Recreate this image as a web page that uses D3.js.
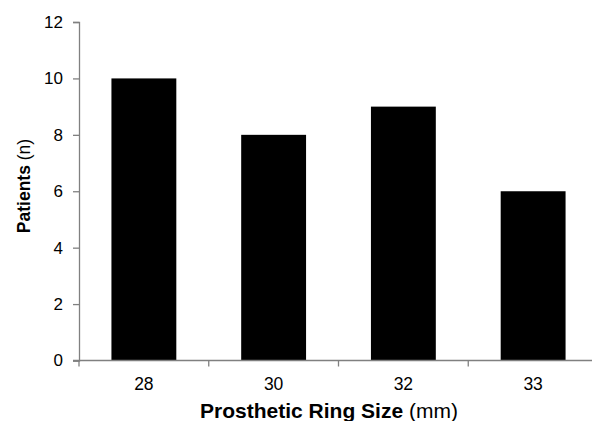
<!DOCTYPE html>
<html>
<head>
<meta charset="utf-8">
<script src="https://cdn.jsdelivr.net/npm/d3@7"></script>
<style>
  body { margin: 0; background: #fff; }
  text { font-family: "Liberation Sans", Arial, sans-serif; }
</style>
</head>
<body>
<div id="chart_div"></div>
<script>
var sizes = ["28", "30", "32", "33"];
var patients = [10, 8, 9, 6];
var y_ticks = [0, 2, 4, 6, 8, 10, 12];

var chart_width = 592;
var chart_height = 421;
var chart = d3.select("#chart_div").append("svg")
    .attr("width", chart_width)
    .attr("height", chart_height);

var x = d3.scaleBand().domain(sizes).range([79, 598]).paddingInner(0.5).paddingOuter(0.25);
var y = d3.scaleLinear().domain([0, 12]).range([360.5, 22]);

// bars
chart.selectAll("rect.bar")
    .data(patients)
    .enter().append("rect")
    .attr("class", "bar")
    .attr("x", function(d, i) { return x(sizes[i]); })
    .attr("width", x.bandwidth())
    .attr("y", function(d) { return y(d); })
    .attr("height", function(d) { return y(0) - y(d); })
    .attr("fill", "black");

// y axis
var y_axis = chart.append("g")
    .attr("transform", "translate(79,0)")
    .call(d3.axisLeft(y).tickValues(y_ticks).tickSize(6).tickPadding(10));
y_axis.select(".domain").attr("stroke", "#808080").attr("stroke-width", 1.3);
y_axis.selectAll(".tick line").attr("stroke", "#808080").attr("stroke-width", 1.3);
y_axis.selectAll(".tick text").attr("font-size", 17).attr("fill", "black")
    .attr("font-family", "Liberation Sans, Arial, sans-serif");

// x axis: ticks between categories
var step = x.step();
var bounds = [0, 1, 2, 3, 4].map(function(i) { return 79 + i * step; });
var x_axis = chart.append("g");
x_axis.append("line")
    .attr("x1", 73).attr("x2", 598)
    .attr("y1", y(0)).attr("y2", y(0))
    .attr("stroke", "#808080").attr("stroke-width", 1.3);
x_axis.selectAll("line.tick")
    .data(bounds)
    .enter().append("line")
    .attr("class", "tick")
    .attr("x1", function(d) { return d; }).attr("x2", function(d) { return d; })
    .attr("y1", y(0)).attr("y2", y(0) + 6)
    .attr("stroke", "#808080").attr("stroke-width", 1.3);
x_axis.selectAll("text")
    .data(sizes)
    .enter().append("text")
    .attr("x", function(d) { return x(d) + x.bandwidth() / 2; })
    .attr("y", 390)
    .attr("text-anchor", "middle")
    .attr("font-size", 17.5)
    .text(function(d) { return d; });

// axis titles
var x_title = chart.append("text")
    .attr("x", 329).attr("y", 417.5)
    .attr("text-anchor", "middle")
    .attr("font-size", 21);
x_title.append("tspan").attr("font-weight", "bold").text("Prosthetic Ring Size");
x_title.append("tspan").text(" (mm)");

var y_title = chart.append("text")
    .attr("transform", "translate(30,186) rotate(-90)")
    .attr("text-anchor", "middle")
    .attr("font-size", 17.5);
y_title.append("tspan").attr("font-weight", "bold").text("Patients");
y_title.append("tspan").text(" (n)");
</script>
</body>
</html>
